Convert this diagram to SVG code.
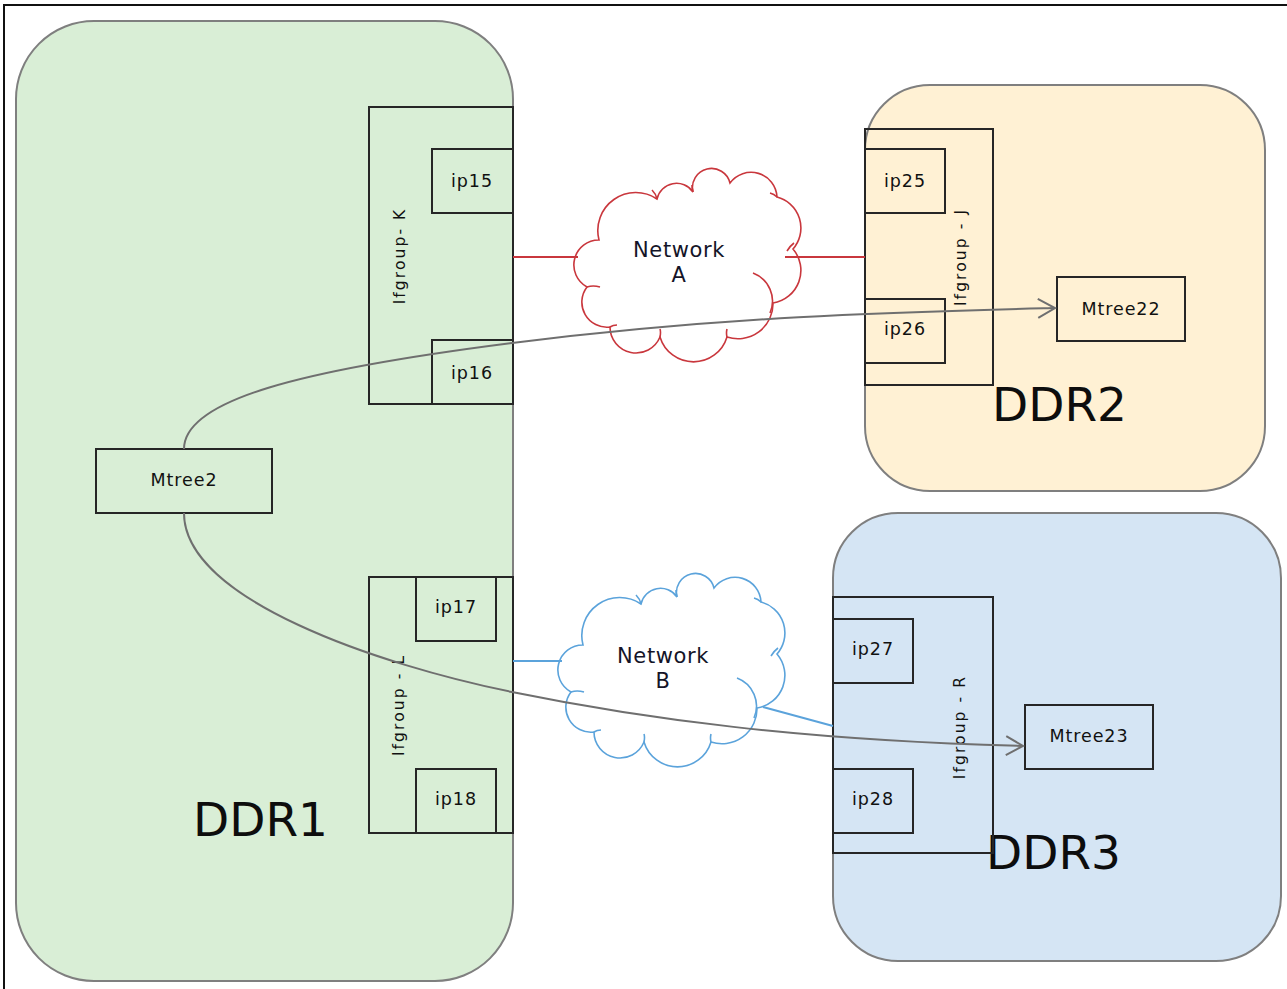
<svg xmlns="http://www.w3.org/2000/svg" xmlns:xlink="http://www.w3.org/1999/xlink" width="1287" height="989" viewBox="0 0 1287 989">
  <style>
    .ddr { stroke: #7f7f7f; stroke-width: 2; }
    .box { fill: none; stroke: #262626; stroke-width: 2; }
    .lbl { font-family: "DejaVu Sans", Verdana, sans-serif; font-size: 17.5px; letter-spacing: 0.9px; fill: #111; text-anchor: middle; dominant-baseline: central; }
    .grp { font-family: "DejaVu Sans", Verdana, sans-serif; font-size: 15.5px; letter-spacing: 2.1px; fill: #111; text-anchor: middle; dominant-baseline: central; }
    .net { font-family: "DejaVu Sans", Verdana, sans-serif; font-size: 21px; letter-spacing: 0.6px; fill: #141428; text-anchor: middle; }
    .big { font-family: "DejaVu Sans", Verdana, sans-serif; font-size: 47px; fill: #0d0d0d; }
    .link { fill: none; stroke: #6f6f6f; stroke-width: 2; }
  </style>
  <defs>
    <marker id="open-arrow" markerUnits="userSpaceOnUse" markerWidth="24" markerHeight="24" viewBox="-20 -12 24 24" refX="0" refY="0" orient="auto">
      <path d="M-17,-9.5 L0,0 L-17,9.5" fill="none" stroke="#6f6f6f" stroke-width="2"/>
    </marker>
    <!-- bumpy cloud outline; stroke colour comes from the <use> element -->
    <g id="cloud" stroke-width="1.6">
      <path fill="#fff" d="M599,240 A38,38 0 0 1 657,199 A20,20 0 0 1 693,192 A19,19 0 0 1 730,183 A26,26 0 0 1 777,197 A32,32 0 0 1 793,249 A33,33 0 0 1 773,303 A35,35 0 0 1 727,337 A35,35 0 0 1 660,337 A26,26 0 0 1 610,327 A25,25 0 0 1 587,287 A25,25 0 0 1 599,240 Z"/>
      <path fill="none" d="M753,273 A30,30 0 0 1 770,313 M600,287 Q593,285 587,287 M787,251 Q790,246 794,243 M777,197 q-3,-3 -7,-4 M657,199 q-1,-5 -5,-9 M693,192 q-1,-4 -1,-7 M660,337 q1,-5 0,-8 M610,327 q3,-2 7,-2 M727,337 q-1,-4 0,-8"/>
    </g>
  </defs>

  <!-- outer frame -->
  <path d="M4,989 V5 H1287" fill="none" stroke="#111" stroke-width="2"/>

  <!-- DDR1 -->
  <g id="ddr1">
    <rect class="ddr" x="16" y="21" width="497" height="960" rx="78" ry="78" fill="#d9eed6"/>
    <text class="big" x="193" y="836">DDR1</text>
  </g>
  <g id="ifgroup-k">
    <rect class="box" x="369" y="107" width="144" height="297"/>
    <text class="grp" transform="translate(400,256) rotate(-90)">Ifgroup- K</text>
  </g>
  <g id="ip15">
    <rect class="box" x="432" y="149" width="81" height="64"/>
    <text class="lbl" x="472" y="181">ip15</text>
  </g>
  <g id="ip16">
    <rect class="box" x="432" y="340" width="81" height="64"/>
    <text class="lbl" x="472" y="373">ip16</text>
  </g>
  <g id="ifgroup-l">
    <rect class="box" x="369" y="577" width="144" height="256"/>
    <text class="grp" transform="translate(399,705) rotate(-90)">Ifgroup - L</text>
  </g>
  <g id="ip17">
    <rect class="box" x="416" y="577" width="80" height="64"/>
    <text class="lbl" x="456" y="607">ip17</text>
  </g>
  <g id="ip18">
    <rect class="box" x="416" y="769" width="80" height="64"/>
    <text class="lbl" x="456" y="799">ip18</text>
  </g>
  <g id="mtree2">
    <rect class="box" x="96" y="449" width="176" height="64"/>
    <text class="lbl" x="184" y="480">Mtree2</text>
  </g>

  <!-- DDR2 -->
  <g id="ddr2">
    <rect class="ddr" x="865" y="85" width="400" height="406" rx="65" ry="65" fill="#fff1d4"/>
    <text class="big" x="992" y="421">DDR2</text>
  </g>
  <g id="ifgroup-j">
    <rect class="box" x="865" y="129" width="128" height="256"/>
    <text class="grp" transform="translate(961,257) rotate(-90)">Ifgroup - J</text>
  </g>
  <g id="ip25">
    <rect class="box" x="865" y="149" width="80" height="64"/>
    <text class="lbl" x="905" y="181">ip25</text>
  </g>
  <g id="ip26">
    <rect class="box" x="865" y="299" width="80" height="64"/>
    <text class="lbl" x="905" y="329">ip26</text>
  </g>
  <g id="mtree22">
    <rect class="box" x="1057" y="277" width="128" height="64"/>
    <text class="lbl" x="1121" y="309">Mtree22</text>
  </g>

  <!-- DDR3 -->
  <g id="ddr3">
    <rect class="ddr" x="833" y="513" width="448" height="448" rx="65" ry="65" fill="#d5e5f4"/>
    <text class="big" x="986" y="869">DDR3</text>
  </g>
  <g id="ifgroup-r">
    <rect class="box" x="833" y="597" width="160" height="256"/>
    <text class="grp" transform="translate(960,727) rotate(-90)">Ifgroup - R</text>
  </g>
  <g id="ip27">
    <rect class="box" x="833" y="619" width="80" height="64"/>
    <text class="lbl" x="873" y="649">ip27</text>
  </g>
  <g id="ip28">
    <rect class="box" x="833" y="769" width="80" height="64"/>
    <text class="lbl" x="873" y="799">ip28</text>
  </g>
  <g id="mtree23">
    <rect class="box" x="1025" y="705" width="128" height="64"/>
    <text class="lbl" x="1089" y="736">Mtree23</text>
  </g>

  <!-- networks -->
  <g id="network-a">
    <use xlink:href="#cloud" href="#cloud" stroke="#c9373d"/>
    <text class="net" x="679" y="257">Network</text>
    <text class="net" x="679" y="282">A</text>
  </g>
  <g id="network-b">
    <use xlink:href="#cloud" href="#cloud" stroke="#5ba3db" transform="translate(-16,405)"/>
    <text class="net" x="663" y="663">Network</text>
    <text class="net" x="663" y="688">B</text>
  </g>

  <!-- connectors -->
  <g id="connectors">
    <path d="M513,257 H578 M785,257 H865" fill="none" stroke="#c9373d" stroke-width="2"/>
    <path d="M513,661 H562 M763,707 L833,726" fill="none" stroke="#5ba3db" stroke-width="2"/>
    <path class="link" d="M184,449 C184,400 300,370 512,343 S900,312 1055,308" marker-end="url(#open-arrow)"/>
    <path class="link" d="M184,513 C184,600 380,665 512,692 S800,740 1023,746" marker-end="url(#open-arrow)"/>
  </g>
</svg>
